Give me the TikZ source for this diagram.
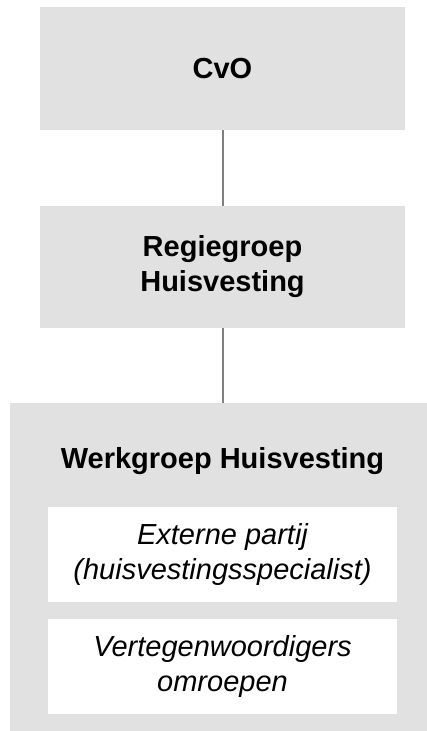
\documentclass[tikz,border=0pt]{standalone}
\usepackage{fontspec}
\setmainfont{Liberation Sans}
\usepackage{tikz}
\usetikzlibrary{positioning}
\definecolor{BoxGray}{RGB}{225,225,225}
\definecolor{LineGray}{RGB}{128,128,128}
\tikzset{
	blok/.style={fill=BoxGray,inner sep=0pt,outer sep=0pt,align=center,
		font=\fontsize{29}{35}\selectfont\bfseries},
	lid/.style={fill=white,inner sep=0pt,outer sep=0pt,align=center,
		minimum width=349pt,minimum height=95pt,
		font=\fontsize{29}{35}\selectfont\itshape},
	edge/.style={draw=LineGray,line width=2pt},
}

\begin{document}
\begin{tikzpicture}[x=1pt,y=1pt]
	\useasboundingbox (0,0) rectangle (427,-731);
	\node[blok,minimum width=365pt,minimum height=123pt] (cvo) at (222.5,-68.5) {CvO};
	\node[blok,minimum width=365pt,minimum height=122pt,below=76pt of cvo] (regie) {Regiegroep\\Huisvesting};
	\node[blok,minimum width=417pt,minimum height=328pt,below=75pt of regie,xshift=-4pt] (werk) {};
	\node[font=\fontsize{29}{35}\selectfont\bfseries,inner sep=0pt,below=44pt of werk.north,xshift=4pt] (titel) {Werkgroep Huisvesting};
	\node[lid,below=32pt of titel] (extern) {Externe partij\\(huisvestingsspecialist)};
	\node[lid,below=17pt of extern] (omroep) {Vertegenwoordigers\\omroepen};
	\draw[edge] (cvo) -- (regie);
	\draw[edge] (regie.south) -- (regie.south |- werk.north);
\end{tikzpicture}
\end{document}
